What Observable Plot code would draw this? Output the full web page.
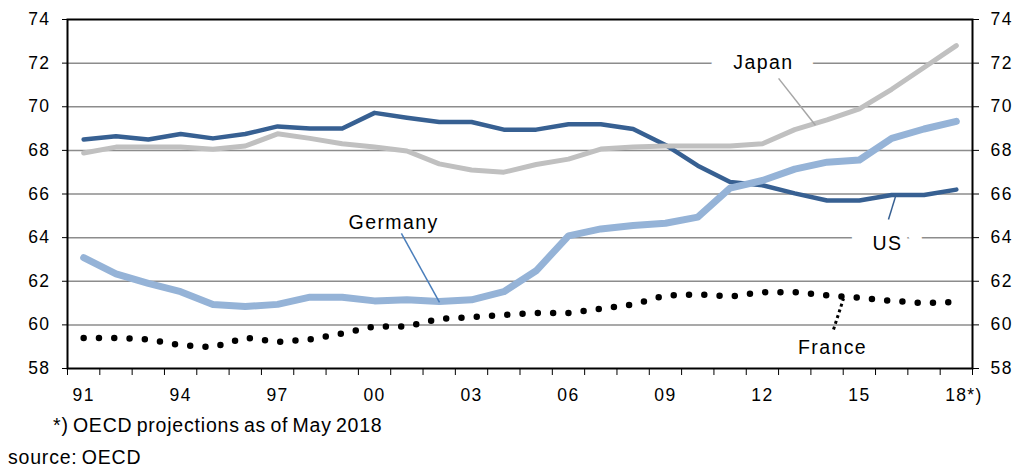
<!DOCTYPE html>
<html><head><meta charset="utf-8">
<script src="https://cdn.jsdelivr.net/npm/d3@7"></script>
<script src="https://cdn.jsdelivr.net/npm/@observablehq/plot@0.6"></script>
<style>
body{margin:0;background:#fff;font-family:"Liberation Sans",Arial,sans-serif;}
#wrap{position:relative;width:1019px;height:468px;overflow:hidden;}
.note{position:absolute;font-size:19.5px;line-height:19.5px;letter-spacing:0.8px;word-spacing:-2px;color:#000;white-space:nowrap;}
</style></head><body>
<div id="wrap"><div id="chart"></div>
<div class="note" style="left:53px;top:416px">*) OECD projections as of May 2018</div>
<div class="note" style="left:8px;top:447.5px">source: OECD</div>
</div>
<script>
const years = [1991,1992,1993,1994,1995,1996,1997,1998,1999,2000,2001,2002,2003,2004,2005,2006,2007,2008,2009,2010,2011,2012,2013,2014,2015,2016,2017,2018];
const us      = [68.5,68.65,68.5,68.75,68.55,68.75,69.1,69.0,69.0,69.72,69.5,69.3,69.3,68.95,68.95,69.2,69.2,68.98,68.25,67.3,66.55,66.4,66.03,65.7,65.7,65.95,65.95,66.2];
const japan   = [67.88,68.15,68.15,68.15,68.05,68.2,68.76,68.55,68.3,68.15,67.97,67.38,67.1,67.0,67.35,67.6,68.06,68.15,68.2,68.2,68.2,68.3,68.95,69.4,69.9,70.8,71.8,72.8];
const germany = [63.08,62.34,61.9,61.52,60.93,60.84,60.94,61.27,61.27,61.1,61.15,61.07,61.15,61.52,62.48,64.08,64.4,64.56,64.66,64.94,66.27,66.62,67.14,67.46,67.56,68.55,68.98,69.33];
const france  = [59.4,59.4,59.33,59.07,58.97,59.42,59.22,59.33,59.6,59.93,59.93,60.28,60.35,60.46,60.54,60.54,60.74,60.94,61.35,61.4,61.3,61.5,61.5,61.35,61.25,61.1,61.0,61.05];
const yTicks = [58,60,62,64,66,68,70,72,74];
const gridValues = [60,62,64,66,68,70,72];
const labelYears = [1991,1994,1997,2000,2003,2006,2009,2012,2015,2018];
const boundaries = [1990.5,1991.5,1992.5,1993.5,1994.5,1995.5,1996.5,1997.5,1998.5,1999.5,2000.5,2001.5,2002.5,2003.5,2004.5,2005.5,2006.5,2007.5,2008.5,2009.5,2010.5,2011.5,2012.5,2013.5,2014.5,2015.5,2016.5,2017.5,2018.5];
const haloLabels  = [{name: "Japan", x: 2012.03, y: 72.03}, {name: "US", x: 2015.87, y: 63.74}];
const plainLabels = [{name: "Germany", x: 2000.59, y: 64.7}, {name: "France", x: 2014.17, y: 58.96}];
const leaderJapan   = [{x1: 2012.5, y1: 71.3, x2: 2013.64, y2: 69.15}];
const leaderUS      = [{x1: 2015.9, y1: 64.83, x2: 2016.12, y2: 65.89}];
const leaderGermany = [{x1: 2000.83, y1: 64.19, x2: 2002.01, y2: 61.03}];
const leaderFrance  = [{x1: 2014.2, y1: 59.79, x2: 2014.51, y2: 61.21}];
const footMark = [{year: 2018, t: "*)"}];

const rows = years.map((year, i) => ({year, us: us[i], japan: japan[i], germany: germany[i], france: france[i]}));

const chart = Plot.plot({
  width: 1019, height: 405,
  marginTop: 19, marginBottom: 37, marginLeft: 67, marginRight: 47,
  style: {fontFamily: '"Liberation Sans", Arial, sans-serif', fontSize: "17.5px", color: "#000", background: "#fff", letterSpacing: "1.4px"},
  x: {domain: [1990.5, 2018.5]},
  y: {domain: [58, 74]},
  marks: [
    Plot.ruleY(gridValues, {stroke: "#8c8c8c", strokeWidth: 1.5}),
    Plot.line(rows, {x: "year", y: "us", stroke: "#376092", strokeWidth: 4.5, strokeLinejoin: "round"}),
    Plot.line(rows, {x: "year", y: "japan", stroke: "#c0c0c0", strokeWidth: 5, strokeLinejoin: "round"}),
    Plot.line(rows, {x: "year", y: "germany", stroke: "#95b3d7", strokeWidth: 7, strokeLinejoin: "round"}),
    Plot.line(rows, {x: "year", y: "france", stroke: "#000", strokeWidth: 6.5, strokeDasharray: "0 15.3", strokeLinecap: "round"}),
    Plot.text(haloLabels, {x: "x", y: "y", text: "name", fill: "#000", stroke: "#fff", strokeWidth: 44, fontSize: 19.5}),
    Plot.text(plainLabels, {x: "x", y: "y", text: "name", fill: "#000", fontSize: 19.5}),
    Plot.link(leaderJapan, {x1: "x1", y1: "y1", x2: "x2", y2: "y2", stroke: "#a6a6a6", strokeWidth: 1.5}),
    Plot.link(leaderUS, {x1: "x1", y1: "y1", x2: "x2", y2: "y2", stroke: "#376092", strokeWidth: 1.5}),
    Plot.link(leaderGermany, {x1: "x1", y1: "y1", x2: "x2", y2: "y2", stroke: "#4a7ebb", strokeWidth: 1.5}),
    Plot.link(leaderFrance, {x1: "x1", y1: "y1", x2: "x2", y2: "y2", stroke: "#000", strokeWidth: 3, strokeDasharray: "3 3"}),
    Plot.frame({stroke: "#000", strokeWidth: 2}),
    Plot.axisY({anchor: "left", ticks: yTicks, tickSize: 5, tickPadding: 12, tickFormat: d => String(d)}),
    Plot.axisY({anchor: "right", ticks: yTicks, tickSize: 6, tickPadding: 12, tickFormat: d => String(d)}),
    Plot.axisX(boundaries, {tickSize: 7, tickFormat: () => ""}),
    Plot.axisX(labelYears, {tickSize: 0, tickPadding: 20, tickFormat: d => String(d % 100).padStart(2, "0")}),
    Plot.text(footMark, {x: "year", frameAnchor: "bottom", text: "t", textAnchor: "start", lineAnchor: "top", dx: 11, dy: 20, fill: "#000"})
  ]
});
document.getElementById("chart").appendChild(chart);
</script>
</body></html>
